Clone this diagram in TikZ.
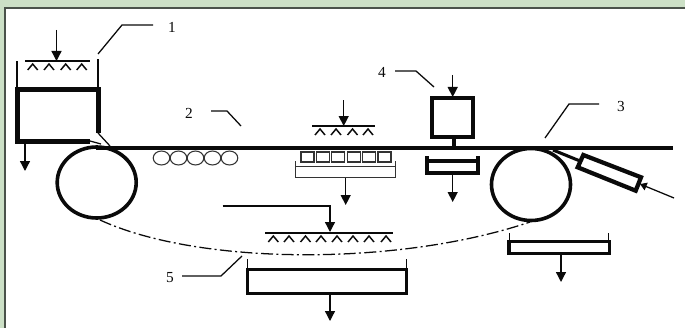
\documentclass[tikz,border=0pt]{standalone}
\usepackage{fontspec}
\setmainfont{Liberation Serif}
\usetikzlibrary{arrows.meta}
\definecolor{bggreen}{HTML}{CCE0C6}
\definecolor{edgedark}{HTML}{4A524A}
\definecolor{ink}{HTML}{0A0A0A}
\definecolor{softink}{HTML}{333333}
\tikzset{
  x=0.75pt,y=-0.75pt,
  hairline/.style={draw=softink,line width=0.8pt},
  thinline/.style={draw=ink,line width=0.95pt},
  midline/.style={draw=ink,line width=1.4pt},
  thickline/.style={draw=ink,line width=2.7pt},
  heavyline/.style={draw=ink,line width=3.2pt},
  medthick/.style={draw=ink,line width=2.3pt},
  flow/.style={draw=ink,line width=1pt,-{Triangle[length=7.5pt,width=7.5pt]}},
  num/.style={font=\fontsize{11.5pt}{12pt}\selectfont,text=ink,inner sep=0pt},
  caretmark/.style={draw=ink,line width=1.1pt},
}
\newcommand{\spraymarks}[2]{\foreach \q in {#1}{\draw[caretmark] (\q-5,#2+6) -- (\q,#2) -- (\q+5,#2+6);}}
\begin{document}
\begin{tikzpicture}
\useasboundingbox (0,0) rectangle (685,328);
\fill[bggreen] (0,0) rectangle (685,328);
\fill[white] (5,8) rectangle (685,328);
\draw[edgedark,line width=1.2pt] (5,328) -- (5,8) -- (685,8);
% strip
\draw[thickline] (96,148) -- (673,148);
% unit 1
\draw[heavyline,line join=miter] (98.5,133) -- (98.5,89.5) -- (17.5,89.5) -- (17.5,141.5) -- (90,141.5);
\draw[thinline] (17,89) -- (17,61);
\draw[thinline] (98,89) -- (98,59);
\draw[thinline] (98,133) -- (110,146);
\draw[thinline] (90,141) -- (101,144);
\draw[midline] (25,61) -- (90,61);
\spraymarks{32.7,49,65.7,81.7}{64}
\draw[flow] (56.5,30) -- (56.5,61);
\draw[flow] (25,142) -- (25,171);
\draw[thinline] (98,54) -- (122,25) -- (153,25);
\node[num] (n1) at (172,27) {1};
% roller 1
\draw[thickline] (96.7,182.5) ellipse [x radius=39.5,y radius=35.5];
% small rollers
\foreach \q in {161.5,178.5,195.5,212.5,229.5}{\draw[hairline] (\q,158) ellipse [x radius=8.3,y radius=7];}
% label 2
\node[num] (n2) at (189,113) {2};
\draw[thinline] (211,111) -- (227,111) -- (241,126);
% middle spray
\draw[midline] (312,126) -- (375,126);
\spraymarks{320,336,352.5,368}{129}
\draw[flow] (343.7,100) -- (343.7,126);
% squares
\foreach \q in {301,316.4,331.8,347.2,362.6,378}{\draw[hairline] (\q,152) rectangle ++(13,10);}
\draw[hairline] (295.7,161) -- (295.7,177.7) -- (395.3,177.7) -- (395.3,161);
\draw[hairline] (295.7,166.7) -- (395.3,166.7);
\draw[flow] (345.7,178) -- (345.7,205);
% unit 4
\draw[thickline] (432,97.7) rectangle (472.7,136.7);
\draw[thickline] (453.7,137) -- (453.7,147);
\draw[flow] (452.7,75) -- (452.7,97);
\draw[thinline] (395,71) -- (416,71) -- (434,87);
\node[num] (n4) at (382,72) {4};
\draw[thickline] (427,161) rectangle (478,173);
\draw[medthick] (427,156) -- (427,161);
\draw[medthick] (478,156) -- (478,161);
\draw[flow] (452.7,173) -- (452.7,202);
% roller 2
\draw[thickline] (531,184.5) ellipse [x radius=39.5,y radius=36];
\draw[thinline] (545,138) -- (569,104) -- (599,104);
\node[num] (n3) at (621,106) {3};
% rotated unit
\draw[heavyline,line join=miter] (583.3,155) -- (641,177.3) -- (635.7,190.7) -- (577.7,167.3) -- cycle;
\draw[medthick] (553,150) -- (580,161);
\draw[thinline,-{Triangle[length=5pt,width=6pt]}] (674,198) -- (640,184);
% dash-dot
\draw[draw=ink,line width=0.95pt,dash pattern=on 9pt off 2.5pt on 1.5pt off 2.5pt] (100,220) .. controls (200,266) and (400,266) .. (530,222);
% lower spray
\draw[flow] (222.7,206) -- (330,206) -- (330,232);
\draw[midline] (265,232.7) -- (393,232.7);
\spraymarks{273.3,289,305.5,321,337,353,369,386}{236}
% lower box
\draw[medthick] (247.3,269.3) rectangle (406.7,293.3);
\draw[thinline] (247.5,269) -- (247.5,259);
\draw[thinline] (406.5,269) -- (406.5,259);
\draw[flow] (330,293) -- (330,321);
\draw[thinline] (182,276) -- (221,276) -- (242,256);
\node[num] (n5) at (170,278) {5};
% right tray
\draw[medthick] (509,241.7) rectangle (609.3,253.3);
\draw[thinline] (509.5,241) -- (509.5,233);
\draw[thinline] (608.5,241) -- (608.5,233);
\draw[flow] (561,253) -- (561,282);
\end{tikzpicture}
\end{document}
